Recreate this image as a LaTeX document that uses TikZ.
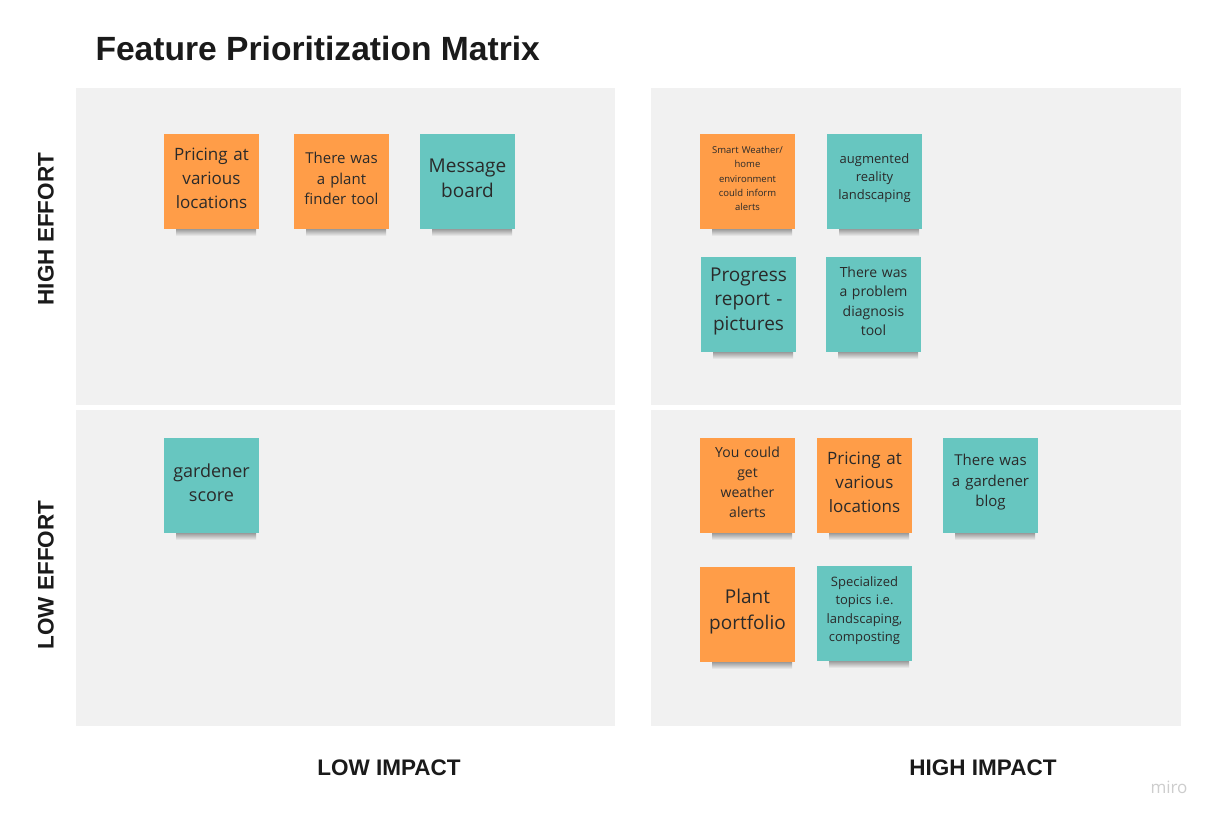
\documentclass[tikz,border=0pt]{standalone}
\usepackage{fontspec}
\setmainfont{Open Sans}
\newfontfamily\arialfont{Liberation Sans}
\definecolor{panelgray}{HTML}{F1F1F1}
\definecolor{noteorange}{HTML}{FF9D48}
\definecolor{noteteal}{HTML}{67C6C0}
\definecolor{notetext}{HTML}{2A2A2A}
\definecolor{titlec}{HTML}{1A1A1A}
\definecolor{shadowc}{HTML}{8E8E8E}
\definecolor{miroc}{HTML}{CDCDCD}
\tikzset{
  panel/.style={fill=panelgray, draw=none},
  note/.style={minimum width=95pt, minimum height=95pt, inner sep=0pt},
  notetxt/.style={inner sep=0pt, align=center, text=notetext, text width=90pt},
  axislabel/.style={font=\arialfont\bfseries\fontsize{22.5}{26}\selectfont, text=titlec},
}
\newcommand\snote[7]{%
  \shade[top color=shadowc, bottom color=panelgray] (#2+12,#3+94) rectangle (#2+92,#3+102);
  \node[note, fill=#4] (#1) at (#2+47.5,#3+47.5) {};
  \node[notetxt, font=\fontsize{#5}{#6}\selectfont] (#1t) at (#2+47.5,#3+44.5) {#7};
}
\begin{document}
\begin{tikzpicture}[x=1pt,y=-1pt]
\useasboundingbox[fill=white] (0,0) rectangle (1216,821);
\node[font=\arialfont\bfseries\fontsize{33.6}{40}\selectfont, text=titlec, anchor=west] (title) at (92,48) {Feature Prioritization Matrix};
\fill[panel] (76,88) rectangle (615,405);
\fill[panel] (651,88) rectangle (1181,405);
\fill[panel] (76,410) rectangle (615,726);
\fill[panel] (651,410) rectangle (1181,726);
\node[axislabel, rotate=90] (heff) at (46,229) {HIGH EFFORT};
\node[axislabel, rotate=90] (leff) at (46,575) {LOW EFFORT};
\node[axislabel] (limp) at (389,768) {LOW IMPACT};
\node[axislabel] (himp) at (983,768) {HIGH IMPACT};
\node[font=\fontsize{17}{20}\selectfont, text=miroc] (miro) at (1169,787) {miro};
% high effort, low impact
\snote{n1}{164}{134}{noteorange}{17}{24}{Pricing at\\various\\locations}
\snote{n2}{294}{134}{noteorange}{15}{20.5}{There was\\a plant\\finder tool}
\snote{n3}{420}{134}{noteteal}{19}{24.5}{Message\\board}
% high effort, high impact
\snote{n4}{700}{134}{noteorange}{9.5}{14.2}{Smart Weather/\\home\\environment\\could inform\\alerts}
\snote{n5}{827}{134}{noteteal}{13}{18}{augmented\\reality\\landscaping}
\snote{n6}{701}{257}{noteteal}{19}{24}{Progress\\report -\\pictures}
\snote{n7}{826}{257}{noteteal}{14}{19.5}{There was\\a problem\\diagnosis\\tool}
% low effort, low impact
\snote{n8}{164}{438}{noteteal}{18}{24}{gardener\\score}
% low effort, high impact
\snote{n9}{700}{438}{noteorange}{14}{20}{You could\\get\\weather\\alerts}
\snote{n10}{817}{438}{noteorange}{17}{24}{Pricing at\\various\\locations}
\snote{n11}{943}{438}{noteteal}{15}{20.5}{There was\\a gardener\\blog}
\snote{n12}{700}{567}{noteorange}{19}{26}{Plant\\portfolio}
\snote{n13}{817}{566}{noteteal}{13}{18.5}{Specialized\\topics i.e.\\landscaping,\\composting}
\end{tikzpicture}
\end{document}
